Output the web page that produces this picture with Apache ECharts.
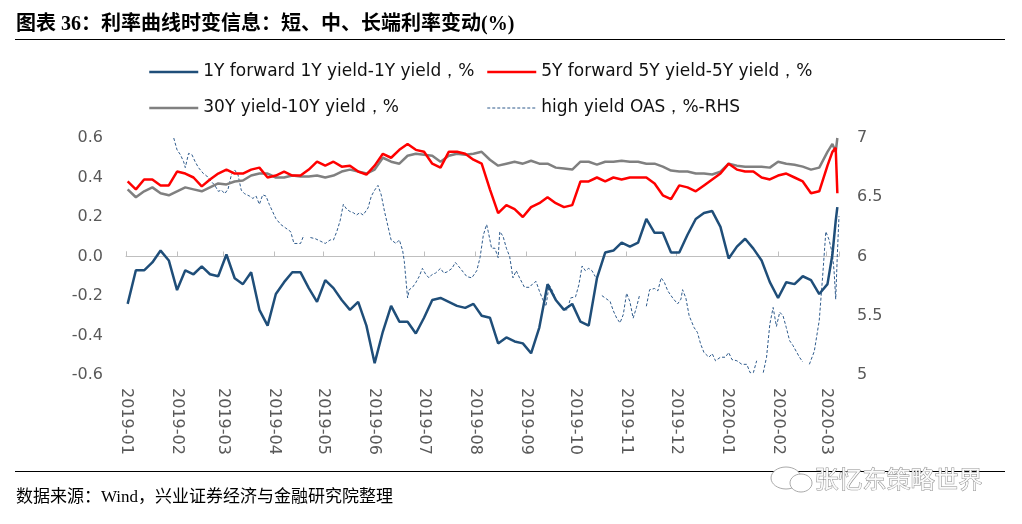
<!DOCTYPE html>
<html>
<head>
<meta charset="utf-8">
<title>利率曲线时变信息</title>
<script src="https://cdn.jsdelivr.net/npm/echarts@6/dist/echarts.min.js"></script>
<style>html,body{margin:0;padding:0;background:#fff}</style>
</head>
<body>
<div id="main" style="width:1022px;height:524px;"></div>
<script>
// sample dates shared by the three spread series
var dates = [
  '2019-01-02','2019-01-07','2019-01-12','2019-01-17','2019-01-22','2019-01-27',
  '2019-02-01','2019-02-06','2019-02-11','2019-02-16','2019-02-21','2019-02-26',
  '2019-03-03','2019-03-08','2019-03-13','2019-03-18','2019-03-23','2019-03-28',
  '2019-04-02','2019-04-07','2019-04-12','2019-04-17','2019-04-22','2019-04-27',
  '2019-05-02','2019-05-07','2019-05-12','2019-05-17','2019-05-22','2019-05-27',
  '2019-06-01','2019-06-06','2019-06-11','2019-06-16','2019-06-21','2019-06-26',
  '2019-07-01','2019-07-06','2019-07-11','2019-07-16','2019-07-21','2019-07-26','2019-07-31',
  '2019-08-05','2019-08-10','2019-08-15','2019-08-20','2019-08-25','2019-08-30',
  '2019-09-04','2019-09-09','2019-09-14','2019-09-19','2019-09-24','2019-09-29',
  '2019-10-04','2019-10-09','2019-10-14','2019-10-19','2019-10-24','2019-10-29',
  '2019-11-03','2019-11-08','2019-11-13','2019-11-18','2019-11-23','2019-11-28',
  '2019-12-03','2019-12-08','2019-12-13','2019-12-18','2019-12-23','2019-12-28',
  '2020-01-02','2020-01-07','2020-01-12','2020-01-17','2020-01-22','2020-01-27',
  '2020-02-01','2020-02-06','2020-02-11','2020-02-16','2020-02-21','2020-02-26',
  '2020-03-02','2020-03-05','2020-03-07','2020-03-08'
];
// 1Y forward 1Y yield - 1Y yield
var fwd1y = [
  -0.24,-0.07,-0.07,-0.03,0.03,-0.02,
  -0.17,-0.07,-0.09,-0.05,-0.09,-0.10,
  0.01,-0.11,-0.14,-0.08,-0.27,-0.35,
  -0.19,-0.13,-0.08,-0.08,-0.16,-0.23,
  -0.12,-0.16,-0.22,-0.27,-0.23,-0.35,
  -0.54,-0.38,-0.25,-0.33,-0.33,-0.39,
  -0.31,-0.22,-0.21,-0.23,-0.25,-0.26,-0.24,
  -0.30,-0.31,-0.44,-0.41,-0.43,-0.44,
  -0.49,-0.36,-0.14,-0.22,-0.27,-0.24,
  -0.33,-0.35,-0.11,0.02,0.03,0.07,
  0.05,0.07,0.19,0.12,0.12,0.02,
  0.02,0.11,0.19,0.22,0.23,0.15,
  -0.01,0.05,0.09,0.04,-0.02,-0.13,
  -0.21,-0.13,-0.14,-0.10,-0.12,-0.19,
  -0.14,0.01,0.18,0.25
];
// 5Y forward 5Y yield - 5Y yield
var fwd5y = [
  0.38,0.34,0.39,0.39,0.36,0.36,
  0.43,0.42,0.40,0.355,0.39,0.42,
  0.44,0.42,0.42,0.44,0.45,0.40,
  0.41,0.43,0.41,0.41,0.44,0.48,
  0.46,0.48,0.455,0.46,0.43,0.415,
  0.46,0.52,0.50,0.54,0.57,0.54,
  0.53,0.47,0.45,0.53,0.53,0.52,0.49,
  0.47,0.34,0.22,0.26,0.24,0.20,
  0.25,0.27,0.30,0.27,0.25,0.26,
  0.38,0.38,0.40,0.38,0.40,0.39,
  0.40,0.40,0.40,0.37,0.31,0.29,
  0.36,0.35,0.33,0.36,0.39,0.42,
  0.47,0.44,0.43,0.43,0.40,0.39,
  0.41,0.42,0.40,0.38,0.32,0.33,
  0.46,0.53,0.55,0.32
];
// 30Y yield - 10Y yield
var y30y10 = [
  0.34,0.30,0.33,0.35,0.32,0.31,
  0.33,0.35,0.34,0.33,0.35,0.37,
  0.365,0.38,0.385,0.41,0.42,0.42,
  0.40,0.40,0.41,0.405,0.405,0.41,
  0.40,0.41,0.43,0.44,0.43,0.42,
  0.44,0.50,0.48,0.47,0.51,0.52,
  0.515,0.51,0.48,0.51,0.52,0.515,0.52,
  0.53,0.49,0.46,0.47,0.48,0.47,
  0.485,0.47,0.47,0.45,0.445,0.44,
  0.48,0.48,0.465,0.48,0.48,0.485,
  0.48,0.48,0.47,0.47,0.455,0.435,
  0.43,0.43,0.42,0.42,0.415,0.43,
  0.47,0.46,0.455,0.455,0.455,0.45,
  0.48,0.47,0.465,0.455,0.44,0.45,
  0.53,0.57,0.53,0.60
];
// high yield OAS (right axis), null = gap in the line
var oasDates = [
  '2019-01-30','2019-02-01','2019-02-03','2019-02-05','2019-02-06','2019-02-08','2019-02-10','2019-02-12','2019-02-14','2019-02-17',
  '2019-02-19','2019-02-22','2019-02-24','2019-02-26','2019-02-28','2019-03-02','2019-03-04','2019-03-06','2019-03-08','2019-03-10',
  '2019-03-12','2019-03-14','2019-03-17','2019-03-19','2019-03-21','2019-03-23','2019-03-25','2019-03-27','2019-03-29','2019-03-31',
  '2019-04-02','2019-04-05','2019-04-08','2019-04-11','2019-04-13','2019-04-15','2019-04-17','2019-04-19','2019-04-21','2019-04-23',
  '2019-04-26','2019-04-29','2019-05-02','2019-05-05','2019-05-07','2019-05-09','2019-05-11','2019-05-13','2019-05-15','2019-05-17',
  '2019-05-19','2019-05-21','2019-05-23','2019-05-25','2019-05-28','2019-05-30','2019-06-01','2019-06-03','2019-06-05','2019-06-07',
  '2019-06-09','2019-06-11','2019-06-14','2019-06-16','2019-06-18','2019-06-19','2019-06-21','2019-06-22','2019-06-24','2019-06-26',
  '2019-06-28','2019-06-30','2019-07-02','2019-07-04','2019-07-06','2019-07-08','2019-07-11','2019-07-13','2019-07-15','2019-07-18',
  '2019-07-20','2019-07-23','2019-07-27','2019-07-30','2019-08-02','2019-08-04','2019-08-06','2019-08-08','2019-08-09','2019-08-11',
  '2019-08-13','2019-08-15','2019-08-16','2019-08-18','2019-08-20','2019-08-22','2019-08-24','2019-08-26','2019-08-28','2019-08-31',
  '2019-09-03','2019-09-05','2019-09-07','2019-09-09','2019-09-11','2019-09-13','2019-09-15','2019-09-17','2019-09-19','2019-09-21',
  '2019-09-24','2019-09-26','2019-09-28','2019-10-01','2019-10-03','2019-10-05','2019-10-07','2019-10-09','2019-10-11','2019-10-13',
  '2019-10-15','2019-10-17','2019-10-20','2019-10-22','2019-10-24','2019-10-26','2019-10-28','2019-10-30','2019-11-01','2019-11-03',
  '2019-11-05','2019-11-07','2019-11-09','2019-11-11','2019-11-13','2019-11-15','2019-11-18','2019-11-20','2019-11-22','2019-11-24',
  '2019-11-26','2019-11-29','2019-12-02','2019-12-04','2019-12-05','2019-12-07','2019-12-09','2019-12-12','2019-12-14','2019-12-16',
  '2019-12-18','2019-12-21','2019-12-23','2019-12-25','2019-12-28','2019-12-31','2020-01-02','2020-01-04','2020-01-07','2020-01-10',
  '2020-01-13','2020-01-15','2020-01-17','2020-01-19','2020-01-21','2020-01-23','2020-01-25','2020-01-27','2020-01-29','2020-01-31',
  '2020-02-02','2020-02-04','2020-02-06','2020-02-08','2020-02-10','2020-02-12','2020-02-14','2020-02-16','2020-02-18','2020-02-20',
  '2020-02-23','2020-02-26','2020-02-28','2020-03-01','2020-03-03','2020-03-05','2020-03-06','2020-03-07','2020-03-08','2020-03-09'
];
var oas = [
  7.00,6.90,6.86,6.80,6.75,6.87,6.86,6.80,6.75,6.70,
  6.68,6.63,6.60,6.55,6.56,6.53,6.57,6.69,6.73,6.69,
  6.56,6.53,6.51,6.49,6.51,6.44,6.52,6.51,6.44,6.38,
  6.32,6.27,6.24,6.21,6.11,6.11,6.11,6.18,null,6.16,
  6.15,6.13,6.11,6.14,6.14,6.21,6.30,6.44,6.40,6.38,
  6.37,6.35,6.37,6.35,6.41,6.51,6.56,6.60,6.52,6.38,
  6.26,6.14,6.11,6.14,6.05,5.96,5.65,5.72,5.74,5.78,
  5.83,5.90,5.85,5.82,5.85,5.86,5.90,5.86,5.87,5.90,
  5.95,5.90,5.83,5.82,5.88,5.99,6.18,6.27,6.21,6.07,
  6.07,5.99,6.21,6.17,6.07,6.00,5.82,5.88,5.82,5.74,
  5.74,5.77,5.79,5.71,5.64,5.58,5.76,5.71,5.64,5.60,
  5.55,5.55,5.65,5.66,5.76,5.92,5.88,5.90,5.88,5.83,
  null,5.67,5.64,5.62,5.54,5.48,5.44,5.51,5.69,5.62,
  5.48,5.57,5.68,null,5.58,5.72,5.73,5.71,5.82,5.78,
  5.71,5.65,5.60,5.64,5.72,5.65,5.50,5.40,5.36,5.26,
  5.19,5.15,5.18,5.12,5.15,5.15,5.19,5.13,5.12,5.09,
  5.09,5.02,5.02,5.12,null,5.02,5.15,5.43,5.57,5.41,
  5.53,5.50,5.40,5.29,5.25,5.20,5.15,5.11,null,5.09,
  5.20,5.46,5.82,6.21,6.14,6.02,5.88,5.64,6.02,6.34
];

var names = ['1Y forward 1Y yield-1Y yield，%', '5Y forward 5Y yield-5Y yield，%',
             '30Y yield-10Y yield，%', 'high yield OAS，%-RHS'];

function pairs(d, v) {
  return d.map(function (x, i) { return [x, v[i]]; });
}

var labelFont = 'DejaVu Sans';
var DAY = 24 * 3600 * 1000;

// legend: plain line icons, no symbol
function legendBox(items, left) {
  return {
    data: items, orient: 'vertical', left: left, top: 57,
    itemWidth: 49, itemHeight: 20, itemGap: 16,
    itemStyle: { opacity: 0 },
    lineStyle: { width: 2.5 },
    textStyle: { fontFamily: labelFont, fontSize: 17, color: '#111', lineHeight: 20 }
  };
}

var myChart = echarts.init(document.getElementById('main'));
myChart.setOption({
  animation: false,
  backgroundColor: '#fff',
  grid: { left: 126, right: 183, top: 138, bottom: 149, outerBoundsMode: 'none', containLabel: false },
  legend: [
    legendBox([names[0], names[2]], 143),
    legendBox([names[1], { name: names[3], lineStyle: { width: 1, type: [3, 2] } }], 481)
  ],
  xAxis: [{
    type: 'time', min: '2019-01-01', max: '2020-03-09',
    minInterval: 28 * DAY, maxInterval: 31 * DAY,
    axisLine: { show: false, onZero: false },
    axisTick: { show: false },
    splitLine: { show: false },
    axisLabel: {
      rotate: -90, margin: 13, formatter: '{yyyy}-{MM}',
      fontFamily: labelFont, fontSize: 16, color: '#595959'
    }
  }, {
    type: 'time', min: '2019-01-01', max: '2020-03-09',
    minInterval: 28 * DAY, maxInterval: 31 * DAY,
    axisLine: { show: true, onZero: true, onZeroAxisIndex: 0, lineStyle: { color: '#BFBFBF', width: 1 } },
    axisTick: { show: true, length: 5, lineStyle: { color: '#BFBFBF' } },
    axisLabel: { show: false },
    splitLine: { show: false }
  }],
  yAxis: [{
    type: 'value', min: -0.6, max: 0.6, interval: 0.2,
    axisLine: { show: false }, axisTick: { show: false }, splitLine: { show: false },
    axisLabel: {
      margin: 23, fontFamily: labelFont, fontSize: 16, color: '#595959',
      formatter: function (v) { return v.toFixed(1); }
    }
  }, {
    type: 'value', min: 5, max: 7, interval: 0.5, position: 'right',
    axisLine: { show: false }, axisTick: { show: false }, splitLine: { show: false },
    axisLabel: { margin: 18, fontFamily: labelFont, fontSize: 16, color: '#595959' }
  }],
  series: [{
    name: names[3], type: 'line', yAxisIndex: 1, symbol: 'none', connectNulls: false,
    data: pairs(oasDates, oas), z: 1,
    lineStyle: { color: '#2F5B8C', width: 1, type: [3, 2] }, itemStyle: { color: '#2F5B8C' }
  }, {
    name: names[2], type: 'line', symbol: 'none', data: pairs(dates, y30y10), z: 2,
    lineStyle: { color: '#808080', width: 2.5 }, itemStyle: { color: '#808080' }
  }, {
    name: names[1], type: 'line', symbol: 'none', data: pairs(dates, fwd5y), z: 3,
    lineStyle: { color: '#FF0000', width: 2.5 }, itemStyle: { color: '#FF0000' }
  }, {
    name: names[0], type: 'line', symbol: 'none', data: pairs(dates, fwd1y), z: 4,
    lineStyle: { color: '#1F4E79', width: 2.5 }, itemStyle: { color: '#1F4E79' }
  }],
  graphic: [{
    type: 'text', left: 16, top: 15,
    style: {
      text: '图表 36：利率曲线时变信息：短、中、长端利率变动(%)',
      font: 'bold 20px "Liberation Serif", "Noto Sans CJK SC"', fill: '#000'
    }
  }, {
    type: 'line', shape: { x1: 15, y1: 39.5, x2: 1005, y2: 39.5 },
    style: { stroke: '#000', lineWidth: 1 }
  }, {
    type: 'line', shape: { x1: 15, y1: 471.5, x2: 1005, y2: 471.5 },
    style: { stroke: '#000', lineWidth: 1 }
  }, {
    type: 'text', left: 16, top: 489,
    style: {
      text: '数据来源：Wind，兴业证券经济与金融研究院整理',
      font: '17px "Liberation Serif", "Noto Sans CJK SC"', fill: '#000'
    }
  }, {
    type: 'ellipse', shape: { cx: 786, cy: 478, rx: 15, ry: 11 },
    style: { fill: '#fff', stroke: '#aaa', lineWidth: 1 }
  }, {
    type: 'ellipse', shape: { cx: 801, cy: 483, rx: 11, ry: 9 },
    style: { fill: '#fff', stroke: '#aaa', lineWidth: 1 }
  }, {
    type: 'text', left: 814, top: 466,
    style: {
      text: '张忆东策略世界',
      font: '24px "Noto Sans CJK SC"', fill: '#fafafa', stroke: '#8c8c8c', lineWidth: 1
    }
  }]
});
</script>
</body>
</html>
